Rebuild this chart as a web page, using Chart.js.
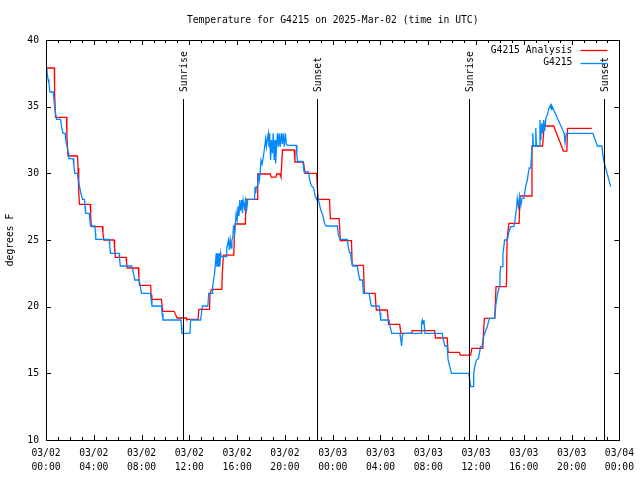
<!DOCTYPE html>
<html>
<head>
<meta charset="utf-8">
<script src="https://cdn.jsdelivr.net/npm/chart.js@4.4.1/dist/chart.umd.min.js"></script>
<style>
  html, body { margin: 0; padding: 0; background: #fff; }
</style>
</head>
<body>
<canvas id="tempChart" width="640" height="480"></canvas>
<script>
// all times are hours since 03/02 00:00 UTC
const analysisHours = [
  0.1, 0.7, 0.72, 0.8, 1.72, 1.75, 1.84, 2.64, 2.68, 2.74, 2.8, 3.7, 3.74, 3.8,
  4.73, 4.77, 4.84, 5.7, 5.74, 5.81, 6.7, 6.74, 6.8, 7.73, 7.77, 7.83, 8.76, 8.8,
  8.86, 9.66, 9.77, 10.72, 10.98, 11.74, 11.78, 12.72, 12.8, 13.69, 13.73, 13.86,
  14.72, 14.76, 14.85, 15.72, 15.76, 15.83, 16.69, 16.75, 17.67, 17.72, 18.78,
  18.85, 19.25, 19.31, 19.59, 19.67, 19.8, 20.78, 20.84, 21.55, 21.68, 22.65, 22.77,
  23.73, 23.8, 24.54, 24.64, 25.57, 25.63, 26.57, 26.65, 27.55, 27.65, 28.57, 28.68,
  29.61, 29.7, 30.6, 30.66, 32.53, 32.61, 33.58, 33.66, 34.6, 34.68, 35.55, 35.65,
  36.57, 36.62, 36.7, 37.56, 37.67, 38.54, 38.6, 38.75, 39.6, 39.68, 40.6, 40.68,
  41.57, 41.7, 42.49, 43.32, 43.6, 43.66, 45.68
];
const analysisTemps = [
  37.9, 37.9, 36.0, 34.2, 34.2, 32.75, 31.3, 31.3, 30.4, 28.6, 27.67, 27.67, 26.85, 26.0,
  26.0, 25.5, 25.0, 25.0, 24.4, 23.7, 23.7, 23.35, 22.9, 22.9, 22.2, 21.6, 21.6, 20.9,
  20.55, 20.55, 19.65, 19.65, 19.15, 19.15, 19.05, 19.05, 19.8, 19.8, 21.0, 21.3,
  21.3, 22.55, 23.87, 23.87, 25.05, 26.2, 26.2, 28.05, 28.05, 29.95, 29.95,
  29.72, 29.72, 29.95, 29.95, 29.72, 31.75, 31.75, 30.85, 30.85, 30.0, 30.0, 28.05,
  28.05, 26.6, 26.6, 24.95, 24.95, 23.1, 23.1, 21.0, 21.0, 19.75, 19.75, 18.67,
  18.67, 18.0, 18.0, 18.2, 18.2, 17.65, 17.65, 16.57, 16.57, 16.37, 16.37, 16.87,
  16.87, 18.0, 19.12, 19.12, 21.5, 21.5, 25.1, 26.25, 26.25, 28.3, 28.3, 32.05,
  32.05, 33.55, 33.55, 31.67, 31.67, 33.37, 33.37
];

const stationHours = [
  0.06, 0.1, 0.17, 0.25, 0.33, 0.61, 0.64, 0.72, 0.8, 0.89, 1.22, 1.3, 1.43, 1.6,
  1.65, 1.77, 1.88, 1.92, 2.28, 2.33, 2.42, 2.64, 2.7, 2.8, 2.92, 3.06, 3.22, 3.27,
  3.31, 3.62, 3.67, 3.73, 4.09, 4.14, 4.17, 5.29, 5.33, 5.4, 6.12, 6.16, 6.22, 7.18,
  7.3, 7.43, 7.8, 7.88, 7.99, 8.76, 8.8, 8.87, 9.66, 9.72, 9.79, 11.3, 11.34, 11.38,
  12.05, 12.1, 12.94, 13.1, 13.55, 13.62, 13.91, 13.95, 14.02, 14.1, 14.16, 14.25,
  14.3, 14.38, 14.42, 14.5, 14.55, 14.62, 14.66, 15.08, 15.13, 15.28, 15.35, 15.42,
  15.5, 15.56, 15.64, 15.7, 15.78, 15.85, 15.92, 16.0, 16.08, 16.15, 16.22, 16.3,
  16.38, 16.45, 16.5, 16.62, 16.7, 16.8, 16.89, 17.45, 17.5, 17.55, 17.6, 17.72,
  17.78, 17.86, 17.92, 18.0, 18.1, 18.25, 18.39, 18.45, 18.53, 18.61, 18.67, 18.72,
  18.8, 18.87, 18.95, 19.02, 19.1, 19.17, 19.22, 19.3, 19.37, 19.45, 19.52, 19.6,
  19.7, 19.78, 19.85, 19.95, 20.03, 20.12, 20.2, 20.95, 21.0, 21.06, 21.5, 21.6,
  21.98, 22.05, 22.2, 22.4, 22.54, 22.68, 22.75, 22.87, 23.0, 23.17, 23.31, 23.45,
  24.4, 24.45, 24.6, 25.23, 25.3, 25.4, 25.5, 25.55, 25.7, 26.07, 26.15, 26.27,
  26.49, 26.57, 27.05, 27.13, 27.24, 27.88, 27.96, 28.02, 28.71, 28.8, 28.94, 29.63,
  29.72, 29.76, 29.83, 29.91, 31.4, 31.44, 31.5, 31.58, 31.64, 31.72, 33.17, 33.25,
  33.39, 33.58, 33.66, 33.8, 33.94, 35.39, 35.47, 35.55, 35.75, 35.8, 35.89, 36.03,
  36.2, 36.28, 36.37, 36.5, 36.59, 36.73, 36.92, 37.12, 37.56, 37.6, 37.67, 37.76,
  37.84, 37.95, 38.0, 38.06, 38.2, 38.25, 38.39, 38.62, 38.75, 38.9, 39.17, 39.26,
  39.4, 39.45, 39.55, 39.65, 39.75, 39.85, 40.0, 40.15, 40.29, 40.37, 40.45, 40.57,
  40.62, 40.7, 40.75, 40.8, 40.95, 41.0, 41.05, 41.3, 41.35, 41.42, 41.5, 41.58,
  41.66, 41.75, 41.85, 41.96, 42.1, 42.24, 42.3, 42.35, 43.38, 43.45, 43.55, 45.77,
  46.16, 46.53, 46.6, 46.7, 47.27
];
const stationTemps = [
  38.0, 37.5, 37.05, 36.75, 36.1, 36.1, 35.75, 35.0, 34.5, 34.05, 34.05, 33.5, 33.0, 33.0,
  32.5, 32.0, 31.5, 31.1, 31.1, 30.55, 30.0, 30.0, 29.5, 29.05, 28.5, 28.05, 28.05, 27.5,
  27.0, 27.0, 26.5, 26.05, 26.05, 25.5, 25.05, 25.05, 24.6, 24.0, 24.0, 23.6, 23.05, 23.05,
  22.6, 22.0, 22.0, 21.6, 21.0, 21.0, 20.5, 20.05, 20.05, 19.5, 19.0, 19.0, 18.5, 18.0,
  18.0, 19.0, 19.0, 20.05, 20.05, 21.0, 21.0, 21.5, 22.0, 22.4, 23.0, 24.0,
  23.0, 24.0, 23.0, 24.0, 23.0, 24.0, 23.75, 23.75, 24.4, 25.0, 24.25, 25.0,
  24.4, 25.0, 25.2, 26.1, 25.5, 26.2, 27.0, 26.5, 27.5, 26.8, 28.0, 27.2,
  28.0, 27.0, 28.0, 27.4, 28.0, 27.3, 28.05, 28.05, 29.0, 28.5, 29.0, 29.0,
  30.0, 29.5, 30.0, 31.0, 30.7, 31.6, 32.6, 32.0, 32.6, 33.0, 32.0, 33.0,
  31.0, 32.5, 31.5, 33.0, 31.0, 32.5, 30.75, 32.0, 33.0, 32.0, 33.0, 32.0,
  33.0, 32.2, 33.0, 32.0, 33.0, 32.2, 32.1, 32.1, 31.4, 30.9, 30.9, 30.1,
  30.1, 29.6, 29.1, 28.9, 28.25, 28.0, 28.3, 27.75, 27.25, 26.87, 26.25, 26.05,
  26.05, 25.5, 25.05, 25.05, 24.5, 24.05, 24.05, 23.5, 23.05, 23.05, 22.5, 22.0,
  22.0, 21.0, 21.0, 20.5, 20.05, 20.05, 19.55, 19.0, 19.0, 18.5, 18.0, 18.0,
  17.4, 17.05, 17.8, 18.0, 18.0, 18.8, 19.0, 18.7, 19.0, 18.0, 18.0, 17.55,
  17.05, 17.05, 16.0, 15.5, 15.0, 15.0, 14.5, 14.0, 14.0, 15.0, 15.5, 16.0,
  16.12, 16.5, 17.0, 17.0, 17.62, 18.0, 18.45, 19.12, 19.12, 19.62, 20.25, 20.75,
  21.12, 21.5, 22.37, 23.0, 23.0, 23.95, 25.0, 25.0, 25.62, 26.0, 26.0, 26.5,
  27.5, 28.12, 27.5, 28.3, 27.6, 28.12, 28.12, 29.0, 29.5, 30.0, 30.4, 30.4,
  31.0, 32.05, 33.0, 32.05, 32.05, 33.4, 32.05, 32.05, 34.0, 32.5, 33.75, 33.0,
  34.0, 33.2, 34.2, 34.37, 34.87, 35.12, 34.8, 35.05, 33.0, 32.3, 33.0, 33.0,
  32.05, 32.05, 31.5, 30.9, 29.0
];

const sunHours = [11.43, 22.65, 35.42, 46.72];
const sunLabels = ['Sunrise', 'Sunset', 'Sunrise', 'Sunset'];

const xTickDates = ['03/02', '03/02', '03/02', '03/02', '03/02', '03/02',
                    '03/03', '03/03', '03/03', '03/03', '03/03', '03/03', '03/04'];
const xTickTimes = ['00:00', '04:00', '08:00', '12:00', '16:00', '20:00',
                    '00:00', '04:00', '08:00', '12:00', '16:00', '20:00', '00:00'];

const titleText = 'Temperature for G4215 on 2025-Mar-02 (time in UTC)';
const monoFont = '"DejaVu Sans Mono", "Liberation Mono", monospace';
const fontSize = 9.7;
const analysisColor = '#ff0000';
const stationColor = '#0088ff';

// gnuplot style frame, inward ticks, sun lines, title and legend
const gnuplotDecor = {
  id: 'gnuplotDecor',
  afterDatasetsDraw(chart) {
    const { ctx, chartArea: a, scales: { x, y } } = chart;
    ctx.save();
    ctx.strokeStyle = '#000';
    ctx.lineWidth = 1;
    ctx.beginPath();
    for (let h = 0; h <= 48; h++) {
      const px = Math.round(x.getPixelForValue(h)) + 0.5;
      const len = h % 4 === 0 ? 5 : 3;
      ctx.moveTo(px, a.bottom); ctx.lineTo(px, a.bottom - len);
      ctx.moveTo(px, a.top); ctx.lineTo(px, a.top + len);
    }
    for (let v = 10; v <= 40; v += 5) {
      const py = Math.round(y.getPixelForValue(v)) + 0.5;
      ctx.moveTo(a.left, py); ctx.lineTo(a.left + 5, py);
      ctx.moveTo(a.right, py); ctx.lineTo(a.right - 5, py);
    }
    ctx.stroke();
    ctx.strokeRect(Math.round(a.left) + 0.5, Math.round(a.top) + 0.5,
                   Math.round(a.width), Math.round(a.height));

    ctx.font = fontSize + 'px ' + monoFont;
    ctx.fillStyle = '#000';

    // sunrise / sunset markers
    sunHours.forEach((h, i) => {
      const px = Math.round(x.getPixelForValue(h)) + 0.5;
      ctx.beginPath();
      ctx.moveTo(px, a.top + 59);
      ctx.lineTo(px, a.bottom);
      ctx.stroke();
      ctx.save();
      ctx.translate(px + 1, a.top + 52);
      ctx.rotate(-Math.PI / 2);
      ctx.textAlign = 'left';
      ctx.textBaseline = 'middle';
      ctx.fillText(sunLabels[i], 0, 0);
      ctx.restore();
    });

    // title
    ctx.textAlign = 'center';
    ctx.textBaseline = 'middle';
    ctx.fillText(titleText, (a.left + a.right) / 2, 20);

    // legend
    const items = [
      { text: 'G4215 Analysis', color: analysisColor },
      { text: 'G4215', color: stationColor }
    ];
    items.forEach((it, i) => {
      const ly = a.top + 10 + i * 12.5;
      ctx.textAlign = 'right';
      ctx.fillStyle = '#000';
      ctx.fillText(it.text, a.right - 47, ly);
      ctx.strokeStyle = it.color;
      ctx.lineWidth = 1.3;
      ctx.beginPath();
      ctx.moveTo(a.right - 39, Math.round(ly) + 0.5);
      ctx.lineTo(a.right - 12, Math.round(ly) + 0.5);
      ctx.stroke();
    });
    ctx.restore();
  }
};

const toPoints = (hours, temps) => hours.map((h, i) => ({ x: h, y: temps[i] }));

const tempChart = new Chart(document.getElementById('tempChart'), {
  type: 'line',
  data: {
    datasets: [
      {
        label: 'G4215',
        data: toPoints(stationHours, stationTemps),
        borderColor: stationColor,
        borderWidth: 1.3,
        pointRadius: 0,
        tension: 0,
        order: 0
      },
      {
        label: 'G4215 Analysis',
        data: toPoints(analysisHours, analysisTemps),
        borderColor: analysisColor,
        borderWidth: 1.3,
        pointRadius: 0,
        tension: 0,
        order: 1
      }
    ]
  },
  options: {
    responsive: false,
    animation: false,
    devicePixelRatio: 1,
    layout: { padding: { top: 40, right: 19, left: 0, bottom: 0 } },
    plugins: {
      legend: { display: false },
      tooltip: { enabled: false }
    },
    scales: {
      x: {
        type: 'linear',
        min: 0,
        max: 48,
        grid: { display: false, drawTicks: false },
        border: { display: false },
        afterFit(scale) { scale.height = 40; },
        ticks: {
          stepSize: 4,
          autoSkip: false,
          maxRotation: 0,
          padding: 6,
          color: '#000',
          font: { family: monoFont, size: fontSize, lineHeight: 14 / fontSize },
          callback: (v) => [xTickDates[v / 4], xTickTimes[v / 4]]
        }
      },
      y: {
        min: 10,
        max: 40,
        grid: { display: false, drawTicks: false },
        border: { display: false },
        afterFit(scale) { scale.width = 46; },
        ticks: {
          stepSize: 5,
          padding: 7,
          color: '#000',
          font: { family: monoFont, size: fontSize }
        },
        title: {
          display: true,
          text: 'degrees F',
          color: '#000',
          padding: { top: 5, bottom: 4 },
          font: { family: monoFont, size: fontSize }
        }
      }
    }
  },
  plugins: [gnuplotDecor]
});
</script>
</body>
</html>
